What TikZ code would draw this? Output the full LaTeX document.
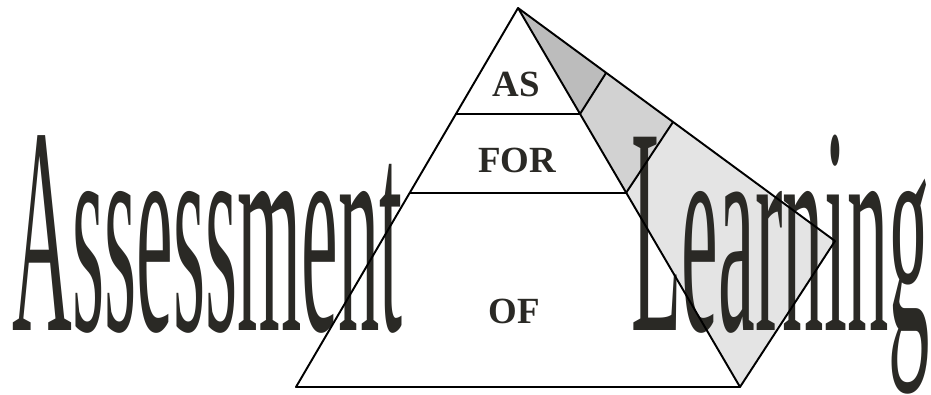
\documentclass[tikz,border=0pt]{standalone}
\usepackage{fontspec}
\setmainfont{Liberation Serif}
\usepackage{tikz}
\usetikzlibrary{positioning}
\definecolor{ink}{HTML}{2A2925}
\definecolor{shadeas}{HTML}{BCBCBC}
\definecolor{shadefor}{HTML}{D2D2D2}
\definecolor{shadeof}{HTML}{E4E4E4}

\begin{document}
\begin{tikzpicture}[x=0.2mm, y=-0.2mm,
    edge/.style={draw=black, line width=1.1pt, line join=round},
    level/.style={font=\fontsize{21}{21}\selectfont\bfseries, text=ink, inner sep=0pt, anchor=base},
    bigword/.style={font=\fontsize{168}{168}\selectfont, text=ink, inner sep=0pt, anchor=base west}]
  \useasboundingbox (0,0) rectangle (931,395);

  % pyramid corners
  \coordinate (top) at (518,8);
  \coordinate (bl) at (296,387);
  \coordinate (br) at (740,387);
  \coordinate (tip) at (835,241);
  % level cuts, front face and side face
  \coordinate (asL) at (456,114);
  \coordinate (asR) at (580,114);
  \coordinate (forL) at (410,193);
  \coordinate (forR) at (626,193);
  \coordinate (asS) at (606,73);
  \coordinate (forS) at (673,122);

  % side face shading
  \fill[shadeas] (top) -- (asS) -- (asR) -- cycle;
  \fill[shadefor] (asR) -- (asS) -- (forS) -- (forR) -- cycle;
  \fill[shadeof] (forR) -- (forS) -- (tip) -- (br) -- cycle;

  \node[bigword] (assess) at (12,330) {\scalebox{0.28}[1]{Assessment}};
  \node[bigword] (learn) at (631,330) {\scalebox{0.28}[1]{Learning}};

  \draw[edge] (top) -- (bl) -- (br) -- cycle;
  \draw[edge] (top) -- (tip) -- (br);
  \draw[edge] (asL) -- (asR) -- (asS);
  \draw[edge] (forL) -- (forR) -- (forS);

  \node[level] (as) at (516,97) {AS};
  \node[level] (for) at (517,173) {FOR};
  \node[level] (of) at (514,324) {OF};
\end{tikzpicture}
\end{document}
